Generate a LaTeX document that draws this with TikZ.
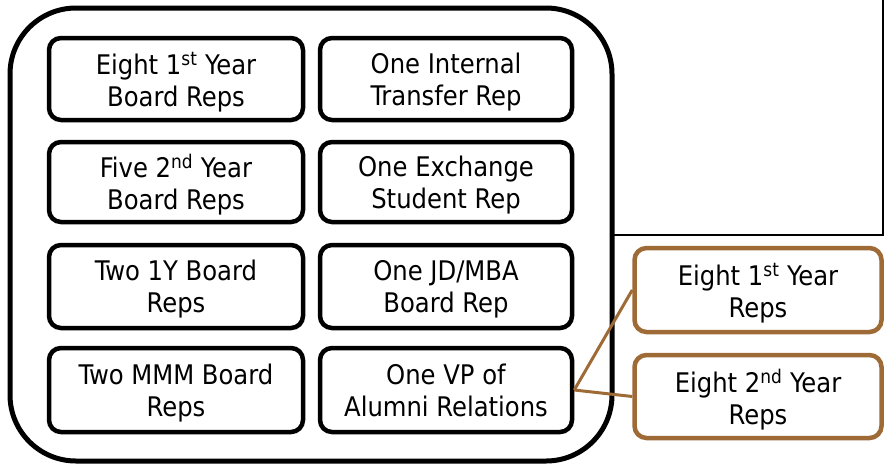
\documentclass[tikz,border=0pt]{standalone}
\usepackage{fontspec}
\setmainfont{DejaVu Sans Condensed}
\begin{document}
\begin{tikzpicture}[x=1pt,y=-1pt,
  box/.style={draw=black,line width=4.5pt,rounded corners=12pt,align=center,
    font=\fontsize{27}{32}\selectfont,inner sep=0pt,text depth=0pt},
  brownbox/.style={box,draw=brownc},
  link/.style={draw=brownc,line width=3pt},
  thin/.style={draw=black,line width=1.5pt}]
\definecolor{brownc}{HTML}{9E6A35}
\useasboundingbox (0,0) rectangle (885,464);
\draw[line width=5pt,rounded corners=66pt] (10,8) rectangle (612,461);
\coordinate (tl) at (883,0);
\coordinate (tc) at (883,235);
\coordinate (tr) at (612,235);
\draw[thin] (tl) -- (tc) -- (tr);
\node[box,minimum width=254pt,minimum height=82pt] (a1) at (176,79) {Eight 1\textsuperscript{st} Year\\Board Reps};
\node[box,minimum width=254pt,minimum height=80pt] (a2) at (176,182) {Five 2\textsuperscript{nd} Year\\Board Reps};
\node[box,minimum width=254pt,minimum height=83pt] (a3) at (176,286.5) {Two 1Y Board\\Reps};
\node[box,minimum width=254pt,minimum height=84pt] (a4) at (176,390) {Two MMM Board\\Reps};
\node[box,minimum width=252pt,minimum height=82pt] (b1) at (446,79) {One Internal\\Transfer Rep};
\node[box,minimum width=252pt,minimum height=80pt] (b2) at (446,182) {One Exchange\\Student Rep};
\node[box,minimum width=252pt,minimum height=83pt] (b3) at (446,286.5) {One JD/MBA\\Board Rep};
\node[box,minimum width=252pt,minimum height=84pt] (b4) at (446,390) {One VP of\\Alumni Relations};
\node[brownbox,minimum width=247pt,minimum height=84pt] (c1) at (758,290) {Eight 1\textsuperscript{st} Year\\Reps};
\node[brownbox,minimum width=247pt,minimum height=83pt] (c2) at (758,396.5) {Eight 2\textsuperscript{nd} Year\\Reps};
\draw[link] (b4.east) -- (c1.west);
\draw[link] (b4.east) -- (c2.west);
\end{tikzpicture}
\end{document}
